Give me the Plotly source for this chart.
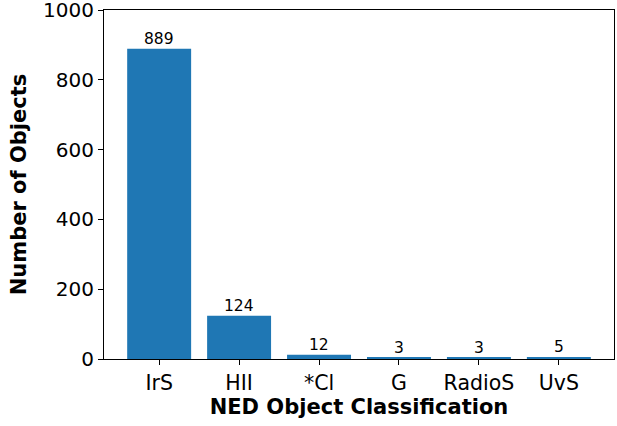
import plotly.graph_objects as go

categories = ["IrS", "HII", "*Cl", "G", "RadioS", "UvS"]
counts = [889, 124, 12, 3, 3, 5]

BAR = "#1f77b4"
FONT = "DejaVu Sans"

xs = list(range(len(categories)))

fig = go.Figure(go.Bar(
    x=xs, y=counts,
    width=0.8,
    marker=dict(color=BAR, line=dict(width=0)),
    hoverinfo="skip",
))

# count labels sitting just above each bar
for x, c in zip(xs, counts):
    fig.add_annotation(
        x=x, y=c, text=str(c), showarrow=False,
        yanchor="bottom", yshift=-1,
        font=dict(family=FONT, size=15.5, color="black"),
    )

fig.update_layout(
    width=617, height=426,
    paper_bgcolor="white", plot_bgcolor="white",
    font=dict(family=FONT, color="black", size=16),
    margin=dict(l=104, r=3, t=10, b=67, autoexpand=False),
    showlegend=False,
    xaxis=dict(
        range=[-0.69, 5.69], automargin=False,
        tickmode="array", tickvals=xs, ticktext=categories,
        ticks="outside", ticklen=5, tickcolor="black",
        showline=True, linecolor="black", linewidth=1, mirror=True,
        showgrid=False, zeroline=False,
        tickfont=dict(size=20.5),
        title=dict(text="<b>NED Object Classification</b>", font=dict(size=21), standoff=4),
    ),
    yaxis=dict(
        range=[0, 1000], automargin=False,
        tickvals=[0, 200, 400, 600, 800, 1000],
        ticks="outside", ticklen=5, tickcolor="black",
        ticklabeloverflow="allow",
        showline=True, linecolor="black", linewidth=1, mirror=True,
        showgrid=False, zeroline=False,
        tickfont=dict(size=20),
        title=dict(text="<b>Number of Objects</b>", font=dict(size=21), standoff=10),
    ),
)

# drop the default page margin so the figure sits at the window's corner
fig.write_html(
    "out.html",
    config={"displayModeBar": False},
    post_script="document.body.style.margin='0';",
)
